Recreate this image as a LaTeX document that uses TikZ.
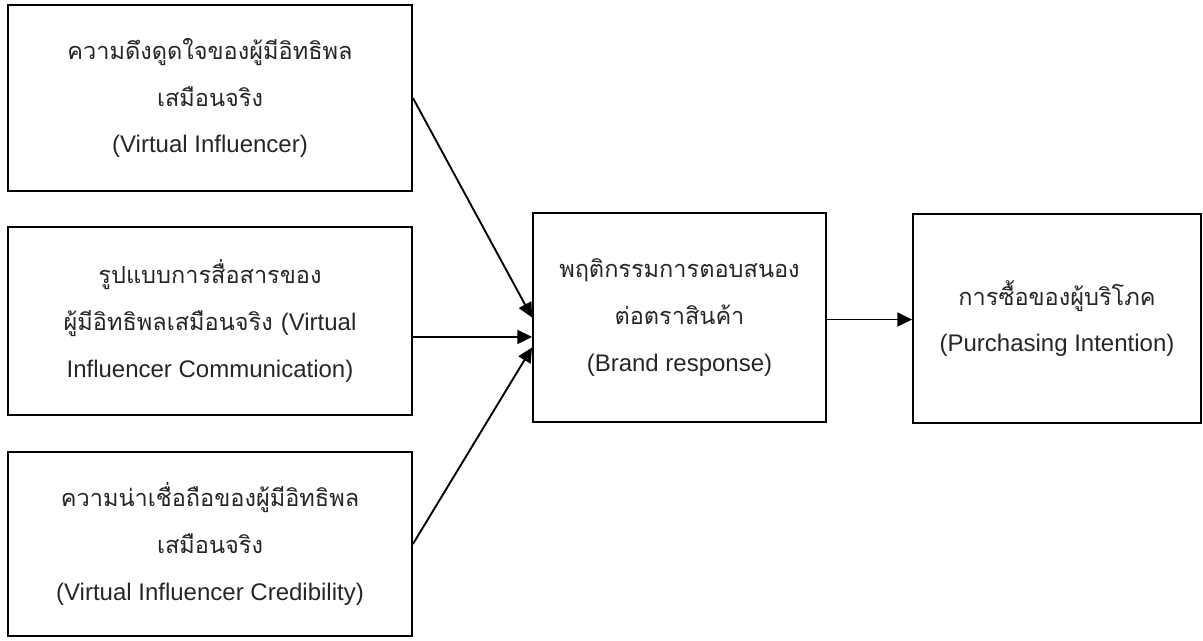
\documentclass[tikz,border=0pt]{standalone}
\usepackage{fontspec}
\newfontfamily\thaifont[Script=Thai,Scale=0.98]{Loma}
\newfontfamily\latfont{Liberation Sans}
\newcommand\lt[1]{{\latfont #1}}
\usetikzlibrary{arrows.meta,calc}
\begin{document}
\begin{tikzpicture}[x=0.75pt,y=-0.75pt,
  box/.style={draw=black,line width=1.4pt,align=center,inner sep=0pt,
    font=\thaifont\fontsize{18}{35}\selectfont,text=black!85},
  arr/.style={line width=1.4pt,-{Triangle[length=11pt,width=10.5pt]}}]
\useasboundingbox (0,0) rectangle (1203,640);
\node[box,minimum width=303pt,minimum height=139.5pt] (b1) at (210,98)
  {ความดึงดูดใจของผู้มีอิทธิพล\\เสมือนจริง\\\lt{(Virtual Influencer)}};
\node[box,minimum width=303pt,minimum height=141pt] (b2) at (210,321)
  {รูปแบบการสื่อสารของ\\ผู้มีอิทธิพลเสมือนจริง \lt{(Virtual}\\\lt{Influencer Communication)}};
\node[box,minimum width=303pt,minimum height=138pt] (b3) at (210,544)
  {ความน่าเชื่อถือของผู้มีอิทธิพล\\เสมือนจริง\\\lt{(Virtual Influencer Credibility)}};
\node[box,minimum width=219.75pt,minimum height=156.75pt] (m) at (679.5,317.5)
  {พฤติกรรมการตอบสนอง\\ต่อตราสินค้า\\\lt{(Brand response)}};
\node[box,minimum width=216pt,minimum height=156.75pt] (r) at (1057,318.5)
  {การซื้อของผู้บริโภค\\\lt{(Purchasing Intention)}};
\coordinate (a2) at ([yshift=-14.6pt]m.west);
\coordinate (a3) at ([yshift=-22.5pt]m.west);
\coordinate (a4) at ([yshift=-1.5pt]m.east);
\draw[arr] (b1.east) -- (m.west);
\draw[arr] (a2 -| b2.east) -- (a2);
\draw[arr] (b3.east) -- (a3);
\draw[arr] (a4) -- (a4 -| r.west);
\end{tikzpicture}
\end{document}
